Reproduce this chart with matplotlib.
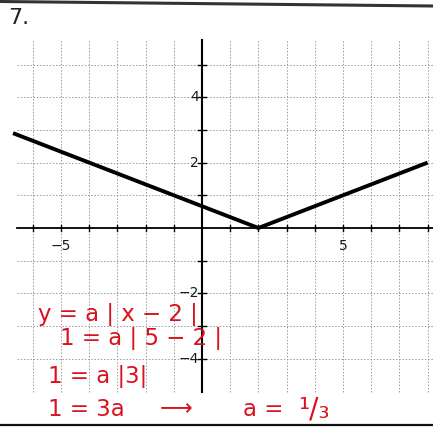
import matplotlib
matplotlib.use("Agg")
import matplotlib.pyplot as plt

# graph of the absolute value function y = a|x - 2| with a = 1/3
line_x = [-6.7, 2, 8]
line_y = [2.9, 0, 2]

grid_x = [-6, -5, -4, -3, -2, -1, 1, 2, 3, 4, 5, 6, 7, 8]
grid_y = [-4, -3, -2, -1, 1, 2, 3, 4, 5]
x_labels = {-5: "\u22125", 5: "5"}
y_labels = {4: "4", 2: "2", -2: "\u22122", -4: "\u22124"}

work_lines = [
    "y = a | x \u2212 2 |",
    "1 = a | 5 \u2212 2 |",
    "1 = a |3|",
]
last_line = ["1 = 3a", "\u27f6", "a =", "\u00b9/\u2083"]

W, H = 433, 430
fig = plt.figure(figsize=(W / 100, H / 100), dpi=100)
fig.patch.set_facecolor("white")
ax = fig.add_axes([0, 0, 1, 1])
ax.set_axis_off()

# pixel -> data scale
x0_px, y0_px = 202, 228
ux, uy = 28.2, 32.7
ax.set_xlim(-x0_px / ux, (W - x0_px) / ux)
ax.set_ylim(-(H - y0_px) / uy, y0_px / uy)

top_y, bot_y = 5.75, -5.0
left_x, right_x = -6.55, 8.3

grid_kw = dict(color="#9a9a9a", lw=0.7, ls=(0, (1.5, 1.8)), zorder=1)
for gx in grid_x:
    ax.plot([gx, gx], [bot_y, top_y], **grid_kw)
for gy in grid_y:
    ax.plot([left_x, right_x], [gy, gy], **grid_kw)

# axes
ax.plot([left_x, right_x], [0, 0], color="black", lw=1.3, zorder=2)
ax.plot([0, 0], [bot_y, top_y], color="black", lw=1.5, zorder=2)
for gx in grid_x:
    ax.plot([gx, gx], [-0.08, 0.08], color="black", lw=1.0, zorder=2)
for gy in grid_y:
    ax.plot([-0.15, 0.15], [gy, gy], color="black", lw=1.0, zorder=2)

for gx, s in x_labels.items():
    ax.text(gx, -0.35, s, ha="center", va="top", fontsize=10, color="#1a1a1a")
for gy, s in y_labels.items():
    ax.text(-0.12, gy, s, ha="right", va="center", fontsize=10, color="#1a1a1a")

ax.plot(line_x, line_y, color="black", lw=2.8, solid_capstyle="butt", zorder=3)

# problem number and page edges
fig.text(8 / W, 1 - 8 / H, "7.", ha="left", va="top", fontsize=16, color="#222222")
fig.add_artist(plt.Line2D([0, 1], [1 - 1.5 / H, 1 - 6 / H], color="#333333", lw=2.2))
fig.add_artist(plt.Line2D([0, 1], [1 - 425 / H, 1 - 425 / H], color="#111111", lw=1.6))

# handwritten working in red
red = "#d8121f"
positions = [(38, 314), (60, 339), (48, 377)]
for (px, py), s in zip(positions, work_lines):
    fig.text(px / W, 1 - py / H, s, ha="left", va="center", fontsize=16.5,
             color=red, zorder=5)

last_pos = [(48, 16.5), (160, 16.5), (243, 16.5), (298, 20)]
for (px, fs), s in zip(last_pos, last_line):
    fig.text(px / W, 1 - 409 / H, s, ha="left", va="center", fontsize=fs,
             color=red, zorder=5)

fig.savefig("out.png", dpi=100)
